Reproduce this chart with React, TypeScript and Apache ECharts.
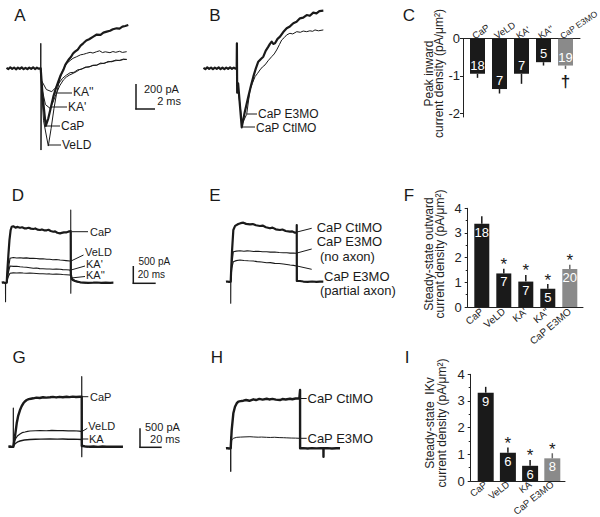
import React, { useEffect, useRef } from "react";
import * as echarts from "echarts";

// ---------- Panel A (time ms, current pA) ----------
const traceA_CaP = [[-3.6,4],[-3.4,-6],[-3.2,8],[-3.0,-4],[-2.8,6],[-2.6,-8],[-2.4,5],[-2.2,-5],[-2.0,7],[-1.8,-6],[-1.6,4],[-1.4,-7],[-1.2,6],[-1.0,-4],[-0.8,8],[-0.6,-6],[-0.4,5],[-0.2,-3],[0,0],[0.2,-220],[0.53,-461],[0.8,-400],[1.05,-320],[1.33,-227],[1.6,-160],[1.85,-107],[2.1,-55],[2.38,-14],[2.6,30],[2.91,66],[3.2,92],[3.4,118],[3.61,133],[3.9,150],[4.2,182],[4.48,200],[4.8,222],[5.1,232],[5.54,253],[5.9,270],[6.3,268],[6.6,285],[6.95,293],[7.3,300],[7.6,312],[8.0,320],[8.3,318],[8.6,333],[8.9,338],[9.22,346]];
const traceA_VeLD = [[0,0],[0.01,200],[0.03,-654],[0.08,-150],[0.3,-420],[0.8,-622],[1.1,-480],[1.4,-320],[1.7,-190],[2.0,-90],[2.3,-20],[2.74,40],[3.1,62],[3.4,80],[3.79,93],[4.2,108],[4.5,112],[4.84,120],[5.2,128],[5.5,122],[5.89,133],[6.2,140],[6.5,126],[6.8,132],[7.29,125],[7.6,134],[7.9,128],[8.3,136],[8.6,127],[9.05,133]];
const traceA_KA1 = [[0,0],[0.1,-150],[0.5,-290],[0.98,-320],[1.3,-270],[1.6,-210],[2.0,-140],[2.38,-94],[2.7,-70],[3.0,-55],[3.43,-40],[3.8,-25],[4.1,-10],[4.48,0],[4.8,8],[5.2,15],[5.5,22],[5.89,26],[6.2,35],[6.6,40],[6.9,47],[7.29,53],[7.6,58],[8.0,62],[8.4,65],[8.7,70],[9.05,72]];
const traceA_KA2 = [[0,0],[0.1,-100],[0.6,-170],[1.16,-187],[1.5,-160],[1.9,-120],[2.3,-80],[2.7,-55],[3.1,-35],[3.5,-32],[3.9,-12],[4.3,-8],[4.7,10],[5.1,10],[5.5,25],[5.9,24],[6.3,42],[6.7,38],[7.1,55],[7.5,52],[7.9,66],[8.3,62],[8.7,74],[9.05,70]];

// ---------- Panel B ----------
const traceB_Ctl = [[-3.5,4],[-3.3,-6],[-3.1,7],[-2.9,-5],[-2.7,6],[-2.5,-7],[-2.3,5],[-2.1,-4],[-1.9,7],[-1.7,-6],[-1.5,5],[-1.3,-6],[-1.1,6],[-0.9,-5],[-0.7,7],[-0.5,-4],[-0.3,5],[-0.1,-3],[0,0],[0.02,200],[0.05,-195],[0.15,-120],[0.53,-472],[0.85,-350],[1.22,-227],[1.5,-140],[1.75,-67],[2.0,-5],[2.27,53],[2.55,75],[2.8,93],[3.05,140],[3.33,173],[3.5,195],[3.68,213],[3.85,195],[4.03,200],[4.3,235],[4.56,253],[4.9,290],[5.26,320],[5.6,335],[5.96,360],[6.3,372],[6.66,400],[7.0,405],[7.37,426],[7.7,420],[8.06,445],[8.4,440],[8.7,458],[9.12,461]];
const traceB_E3 = [[0,0],[0.1,-150],[0.6,-440],[1.05,-368],[1.4,-173],[1.65,-120],[1.93,-67],[2.2,-40],[2.45,-13],[2.7,10],[2.98,27],[3.3,60],[3.68,93],[3.95,115],[4.21,147],[4.5,190],[4.74,227],[5.0,245],[5.26,267],[5.6,280],[5.9,275],[6.32,293],[6.7,288],[7.0,298],[7.37,293],[7.7,300],[8.0,296],[8.24,307],[8.6,300],[9.12,307]];

// ---------- Panel C ----------
const catsC = ["CaP", "VeLD", "KA'", "KA''", "CaP E3MO"];
const meanC = [-0.94, -1.35, -0.94, -0.63, -0.72];
const semC = [0.11, 0.12, 0.27, 0.09, 0.09];
const nC = [18, 7, 7, 5, 19];
const markC = ["", "", "", "", "\u2020"];

// ---------- Panel D ----------
const traceD_CaP = [[-4.5,0],[-3,10],[-1.5,-10],[0,0],[0.5,300],[1.5,800],[2.5,1250],[3.6,1550],[4.55,1646],[6,1660],[8,1620],[10,1640],[12.1,1617],[14,1630],[16,1600],[18.2,1599],[20,1615],[22,1590],[24.2,1579],[26,1595],[28,1560],[30.3,1549],[32,1565],[34,1540],[36.4,1541],[38,1555],[40,1520],[42.4,1499],[44,1510],[46,1470],[48.5,1452],[50,1465],[52,1480],[54.5,1482],[56,1500],[58.2,1520],[58.3,250],[59.1,109],[60,80],[62.1,50],[64,30],[66.7,12],[70,5],[74,-5],[78.7,0],[82,6],[86,-4],[90,4],[94,-3],[97,0]];
const traceD_VeLD = [[-1.1,0],[-1.05,-559],[-1.0,0],[0,0],[1.5,400],[3.0,717],[6,740],[9,725],[12.1,735],[15,722],[18,730],[21,715],[24.2,717],[27,710],[30,700],[33,705],[36.4,688],[39,690],[42,675],[45,680],[48.5,667],[51,660],[54,650],[57.5,638],[58.2,638],[58.22,2137],[58.26,-312],[58.4,150],[59.1,109],[62.1,50],[66.7,12],[70,0]];
const traceD_KA1 = [[0,0],[1.5,300],[3.0,491],[6,480],[9,485],[12.1,470],[15,460],[18,455],[21,440],[24.2,423],[27,430],[30,415],[33,410],[36.4,403],[39,405],[42,395],[45,400],[48.5,394],[51,385],[54,380],[57.5,373],[58.3,300],[59.1,140],[62,60],[67,15],[72,0]];
const traceD_KA2 = [[0,0],[1.5,180],[3.0,276],[6,290],[9,285],[12.1,294],[15,285],[18,280],[21,282],[24.2,276],[27,270],[30,265],[33,262],[36.4,256],[39,258],[42,250],[45,252],[48.5,247],[51,240],[54,235],[57.5,226],[58.3,200],[59.1,120],[62,55],[67,12],[72,0]];

// ---------- Panel E ----------
const traceE_Ctl = [[-4.3,0],[-3,6],[-1.5,-6],[0,0],[0.5,400],[1.2,900],[2.4,1520],[4,1640],[6.9,1696],[9,1720],[11.5,1735],[14,1700],[17.5,1688],[20,1695],[23,1660],[26.6,1638],[29,1650],[32,1600],[35.7,1570],[38,1590],[41,1540],[44.8,1520],[47,1535],[50,1490],[53.9,1470],[56,1480],[58,1445],[60,1452],[60.05,1667],[60.1,20],[61,20],[63,20],[66,5],[70,-5],[74,6],[78,-4],[81,3],[84.2,0]];
const traceE_NoAxon = [[0,0],[0.02,-635],[0.1,0],[1.0,500],[2.4,882],[5,900],[8.5,911],[12,895],[15,905],[17.5,903],[21,890],[25,895],[29,880],[32.7,882],[36,870],[40,875],[44,860],[47.8,853],[51,850],[54,840],[57,845],[60,835],[60.1,300],[60.3,20]];
const traceE_Partial = [[0,0],[1.0,400],[2.4,588],[5,620],[8.5,638],[12,625],[16,615],[20.6,608],[24,590],[28,580],[32.7,558],[36,560],[40,540],[44,535],[47.8,520],[51,505],[54,490],[57,480],[60,461],[60.2,150],[60.4,20]];

// ---------- Panel F ----------
const catsF = ["CaP", "VeLD", "KA'", "KA''", "CaP E3MO"];
const meanF = [3.37, 1.36, 1.03, 0.74, 1.54];
const semF = [0.31, 0.19, 0.27, 0.19, 0.17];
const nF = [18, 7, 7, 5, 20];
const markF = ["", "*", "*", "*", "*"];

// ---------- Panel G ----------
const traceG_CaP = [[-4.5,0],[-3,6],[-1.5,-5],[0,0],[0.5,80],[1.5,263],[3.1,615],[4.5,820],[6.1,965],[7.5,1060],[9.1,1141],[10.5,1190],[12.2,1228],[14,1250],[16,1262],[18.2,1273],[21,1290],[24,1280],[27,1300],[30,1292],[33.4,1299],[36,1310],[39,1296],[42,1312],[45,1300],[48.5,1315],[51,1305],[54,1318],[57,1308],[60.6,1315],[62.2,1315],[62.25,20],[63.4,18],[65,10],[69.7,0],[73,5],[77,-4],[81,4],[85,-3],[89,3],[93,-2],[97,2],[99.7,0]];
const traceG_VeLD = [[0,0],[0.02,1018],[0.05,0],[1,150],[2.5,229],[4,290],[6.1,334],[8,370],[10.6,387],[13,405],[15.2,413],[20,420],[24.3,426],[30,420],[35,428],[40,422],[45,425],[50,418],[55,420],[60,410],[62.2,395],[62.22,1841],[62.25,-263],[62.3,30],[64,10],[68,0]];
const traceG_KA = [[0,0],[1,60],[2.5,97],[4,125],[6.1,150],[10,175],[15.2,189],[20,195],[25,200],[33.4,203],[40,198],[45,202],[50,196],[55,198],[62.2,189],[62.3,40],[64,10],[68,0]];

// ---------- Panel H ----------
const traceH_Ctl = [[-4.3,0],[-3,5],[-1.5,-5],[0,0],[0.9,481],[2.4,920],[3.9,1094],[5.4,1180],[6.9,1226],[9,1240],[11.5,1252],[14,1270],[17,1250],[20.6,1289],[23,1270],[26,1300],[29,1280],[32.7,1304],[35,1285],[38,1300],[41,1280],[44.8,1270],[47,1295],[50,1285],[53.9,1304],[56,1290],[59,1310],[62.4,1315],[63.0,1315],[63.05,1533],[63.1,0],[66,5],[70,-4],[74,5],[78,-3],[82,4],[84.3,0],[84.35,-221],[84.4,0],[88,4],[92,-4],[96,3],[99.4,0]];
const traceH_E3 = [[0,0],[0.02,-615],[0.05,305],[0.1,0],[0.9,218],[2.4,263],[5.5,289],[9,295],[13,300],[17.5,305],[21,298],[25,292],[28,296],[32.7,289],[36,285],[40,290],[44,282],[47.8,279],[51,275],[55,270],[59,268],[62.4,263],[63,255],[63.1,0]];

// ---------- Panel I ----------
const catsI = ["CaP", "VeLD", "KA", "CaP E3MO"];
const meanI = [3.31, 1.06, 0.57, 0.85];
const semI = [0.22, 0.2, 0.22, 0.19];
const nI = [9, 6, 6, 8];
const markI = ["", "*", "*", "*"];

const FONT = "'Liberation Sans', Arial, Helvetica, sans-serif";
const INK = "#1a1a1a";
const GRAY = "#8a8a8a";

function txt(x: number, y: number, text: string, size: number, align = "left", extra: any = {}) {
  return {
    type: "text", x, y, silent: true, z: 10,
    style: { text, fill: INK, fontSize: size, fontFamily: FONT, align, verticalAlign: "middle", ...extra },
  };
}
function ln(x1: number, y1: number, x2: number, y2: number, w = 1) {
  return { type: "line", silent: true, z: 10, shape: { x1, y1, x2, y2 }, style: { stroke: INK, lineWidth: w } };
}
function vtxt(x: number, y: number, text: string, lh: number) {
  return {
    type: "text", x, y, rotation: Math.PI / 2, silent: true, z: 10,
    style: { text, fill: "#222", fontSize: 12, fontFamily: FONT, align: "center", verticalAlign: "middle", lineHeight: lh },
  };
}

function tr(data: number[][], gi: number, w: number) {
  return {
    type: "line", xAxisIndex: gi, yAxisIndex: gi, data, showSymbol: false, symbol: "none",
    clip: false, silent: true, z: w > 1.5 ? 4 : 3,
    lineStyle: { color: INK, width: w, join: "round" },
  };
}

function barSeries(gi: number, cats: string[], means: number[], ns: number[], bw: number, pos: string) {
  return {
    type: "bar", xAxisIndex: gi, yAxisIndex: gi, barWidth: bw, silent: true, z: 2,
    data: means.map((m, i) => ({
      value: [i, m],
      itemStyle: { color: cats[i].indexOf("E3MO") >= 0 ? GRAY : INK },
    })),
    label: {
      show: true, position: pos, distance: 2, color: "#fff", fontSize: 13, fontFamily: FONT,
      formatter: (p: any) => String(ns[p.dataIndex]),
    },
  };
}

function errSeries(gi: number, cats: string[], means: number[], sems: number[], marks: string[]) {
  return {
    type: "custom", xAxisIndex: gi, yAxisIndex: gi, silent: true, z: 5, clip: false,
    data: means.map((m, i) => [i, m, sems[i]]),
    renderItem: (params: any, api: any) => {
      const x = api.value(0), m = api.value(1), e = api.value(2);
      const end = m + Math.sign(m) * e;
      const p1 = api.coord([x, m]);
      const p2 = api.coord([x, end]);
      const i = params.dataIndex;
      const col = cats[i].indexOf("E3MO") >= 0 ? "#6a6a6a" : INK;
      const children: any[] = [
        { type: "line", shape: { x1: p1[0], y1: p1[1], x2: p2[0], y2: p2[1] }, style: { stroke: col, lineWidth: 1.5 } },
      ];
      const mk = marks[i];
      if (mk) {
        children.push({
          type: "text", x: p2[0], y: m < 0 ? p2[1] + 13 : p2[1] - 4,
          style: { text: mk, fill: INK, fontSize: 17, fontFamily: FONT, fontWeight: m < 0 ? "bold" : "normal", align: "center", verticalAlign: "middle" },
        });
      }
      return { type: "group", children };
    },
  };
}

function hiddenAxes(min: number, max: number, gi: number) {
  return { type: "value", gridIndex: gi, min, max, show: false, splitLine: { show: false } };
}

function catXAxis(gi: number, cats: string[], min: number, max: number, top: boolean, rot: number, fs: number, margin: number) {
  const lab: any = {
    customValues: cats.map((_, i) => (top ? i - 0.2 : i)),
    formatter: (v: number) => {
      const c = cats[Math.round(v)];
      return top && c.length > 5 ? "{s|" + c + "}" : c;
    },
    rich: { s: { fontSize: 8.5, fontFamily: FONT, color: "#222" } },
    rotate: rot, fontSize: fs, fontFamily: FONT, color: "#222", margin,
  };
  if (top) { lab.align = "left"; lab.verticalAlign = "middle"; }
  return {
    type: "value", gridIndex: gi, min, max, position: top ? "top" : "bottom",
    axisLine: { show: true, onZero: false, lineStyle: { color: "#222", width: 1 } },
    axisTick: { show: false },
    splitLine: { show: false },
    axisLabel: lab,
  };
}

function valYAxis(gi: number, min: number, max: number, vals: number[], minor: boolean, margin: number) {
  return {
    type: "value", gridIndex: gi, min, max,
    axisLine: { show: true, onZero: false, lineStyle: { color: "#222", width: 1 } },
    axisTick: { show: true, length: 3, customValues: vals, lineStyle: { color: "#222" } },
    minorTick: { show: minor, splitNumber: 2, length: 2, lineStyle: { color: "#222" } },
    splitLine: { show: false },
    minorSplitLine: { show: false },
    axisLabel: { customValues: vals, fontSize: 13, fontFamily: FONT, color: "#222", margin },
  };
}

export default function App() {
  const ref = useRef<HTMLDivElement>(null);
  useEffect(() => {
    if (!ref.current) return;
    const chart = echarts.init(ref.current, undefined, { renderer: "svg" });
    const grids = [
      { left: 2.7, top: 8.3, width: 133, height: 160 },
      { left: 198.7, top: 8.3, width: 133, height: 160 },
      { left: 463, top: 38.7, width: 117, height: 78.3 },
      { left: 0.1, top: 201.07, width: 121, height: 108.84 },
      { left: 224.1, top: 200.07, width: 121, height: 108.84 },
      { left: 467.7, top: 208.3, width: 115.3, height: 98.7 },
      { left: 6.7, top: 355.45, width: 121, height: 121.67 },
      { left: 224.1, top: 357.05, width: 121, height: 121.67 },
      { left: 470.7, top: 374.3, width: 94.3, height: 106.7 },
    ].map((g) => ({ ...g, containLabel: false, outerBoundsMode: "none", show: false }));

    const xAxis = [
      hiddenAxes(-4, 10, 0),
      hiddenAxes(-4, 10, 1),
      catXAxis(2, catsC, -0.659, 4.659, true, -34, 9.5, 2),
      hiddenAxes(-6, 104, 3),
      hiddenAxes(-6, 104, 4),
      catXAxis(5, catsF, -0.641, 4.6, false, 40, 10, 3),
      hiddenAxes(-6, 104, 6),
      hiddenAxes(-6, 104, 7),
      catXAxis(8, catsI, -0.676, 3.572, false, 38, 9.5, 2),
    ];
    const yAxis = [
      hiddenAxes(-800, 480, 0),
      hiddenAxes(-800, 480, 1),
      valYAxis(2, -2.1, 0, [-2, -1, 0], false, 3),
      hiddenAxes(-800, 2400, 3),
      hiddenAxes(-800, 2400, 4),
      { ...valYAxis(5, 0, 4, [0, 1, 2, 3, 4], true, 6), interval: 1 },
      hiddenAxes(-800, 2400, 6),
      hiddenAxes(-800, 2400, 7),
      { ...valYAxis(8, 0, 4, [0, 1, 2, 3, 4], true, 6), interval: 1 },
    ];

    const series: any[] = [
      tr(traceA_KA2, 0, 1), tr(traceA_KA1, 0, 1), tr(traceA_VeLD, 0, 1), tr(traceA_CaP, 0, 2.2),
      tr(traceB_E3, 1, 1), tr(traceB_Ctl, 1, 2.2),
      barSeries(2, catsC, meanC, nC, 15, "insideBottom"), errSeries(2, catsC, meanC, semC, markC),
      tr(traceD_KA2, 3, 1.1), tr(traceD_KA1, 3, 1.1), tr(traceD_VeLD, 3, 1.1), tr(traceD_CaP, 3, 2.2),
      tr(traceE_Partial, 4, 1.1), tr(traceE_NoAxon, 4, 1.1), tr(traceE_Ctl, 4, 2.2),
      barSeries(5, catsF, meanF, nF, 15, "insideTop"), errSeries(5, catsF, meanF, semF, markF),
      tr(traceG_KA, 6, 1.4), tr(traceG_VeLD, 6, 1.2), tr(traceG_CaP, 6, 2.4),
      tr(traceH_E3, 7, 1), tr(traceH_Ctl, 7, 2.4),
      barSeries(8, catsI, meanI, nI, 16, "insideTop"), errSeries(8, catsI, meanI, semI, markI),
    ];

    const graphic: any[] = [
      // panel letters
      txt(20, 15, "A", 17, "center"), txt(215, 15, "B", 17, "center"), txt(409, 15, "C", 17, "center"),
      txt(18, 195, "D", 17, "center"), txt(215, 195, "E", 17, "center"), txt(409, 195, "F", 17, "center"),
      txt(19, 357, "G", 17, "center"), txt(217, 357, "H", 17, "center"), txt(407, 357, "I", 17, "center"),
      // A labels
      ln(54, 93, 72, 93), txt(73, 92, "KA''", 12),
      ln(51, 107, 67, 107), txt(68, 107, "KA'", 12),
      ln(46, 126, 60, 126), txt(61, 126, "CaP", 12),
      ln(49, 145, 61, 145), txt(62, 145, "VeLD", 12),
      // A scale bar
      ln(136, 84, 136, 109.5, 1.5), ln(135.3, 109, 155, 109, 1.5),
      txt(144, 89, "200 pA", 11), txt(181, 101, "2 ms", 11, "right"),
      // B labels
      ln(247, 114, 257, 114), txt(258, 114, "CaP E3MO", 12),
      ln(242.5, 127, 255, 127), txt(256, 127.5, "CaP CtlMO", 12),
      // C/F/I axis names
      vtxt(434, 73.5, "Peak inward\ncurrent density (pA/\u03bcm\u00b2)", 10.5),
      vtxt(434.3, 254, "Steady-state outward\ncurrent density (pA/\u03bcm\u00b2)", 11.5),
      vtxt(436, 423, "Steady-state  IKv\ncurrent density (pA/\u03bcm\u00b2)", 12),
      // D labels
      ln(71.5, 231.7, 88, 231.7), txt(90, 231.7, "CaP", 11),
      ln(71, 261, 83.5, 255), txt(85, 252, "VeLD", 11),
      ln(71, 270, 85, 266), txt(86, 263.5, "KA'", 11),
      ln(71, 278, 85, 276.5), txt(86, 274.5, "KA''", 11),
      // D scale
      ln(133.3, 266, 133.3, 283.8, 1.5), ln(132.6, 283.3, 155.7, 283.3, 1.5),
      txt(138.5, 261, "500 pA", 10), txt(165, 274.3, "20 ms", 10, "right"),
      // E labels
      ln(297, 232, 311.7, 228.3), txt(316.7, 227.7, "CaP CtlMO", 13),
      ln(297, 253, 311.7, 249), txt(316.7, 241.7, "CaP E3MO", 13), txt(320, 256, "(no axon)", 13),
      ln(297, 266, 311.7, 269.3), txt(324, 276.7, "CaP E3MO", 13), txt(320, 290.5, "(partial axon)", 13),
      // G labels
      ln(81.7, 396.7, 88.3, 396.7), txt(90, 396.7, "CaP", 11),
      ln(81.7, 431.7, 87.3, 428.3), txt(88.3, 426, "VeLD", 11),
      ln(81.7, 439, 88.3, 439), txt(89, 439, "KA", 11),
      // G scale
      ln(140, 428.3, 140, 447.8, 1.5), ln(139.3, 447.3, 161.7, 447.3, 1.5),
      txt(145, 427.3, "500 pA", 11), txt(180, 439, "20 ms", 11, "right"),
      // H labels
      ln(300, 398.5, 306.7, 398.5), txt(307.5, 398.5, "CaP CtlMO", 13),
      ln(300, 438.3, 306.7, 438.3), txt(307.5, 438.3, "CaP E3MO", 13),
    ];

    chart.setOption({
      animation: false,
      backgroundColor: "#ffffff",
      textStyle: { fontFamily: FONT },
      grid: grids,
      xAxis,
      yAxis,
      series,
      graphic,
    });
    return () => chart.dispose();
  }, []);
  return <div ref={ref} style={{ position: "absolute", left: 0, top: 0, width: 600, height: 517 }} />;
}
